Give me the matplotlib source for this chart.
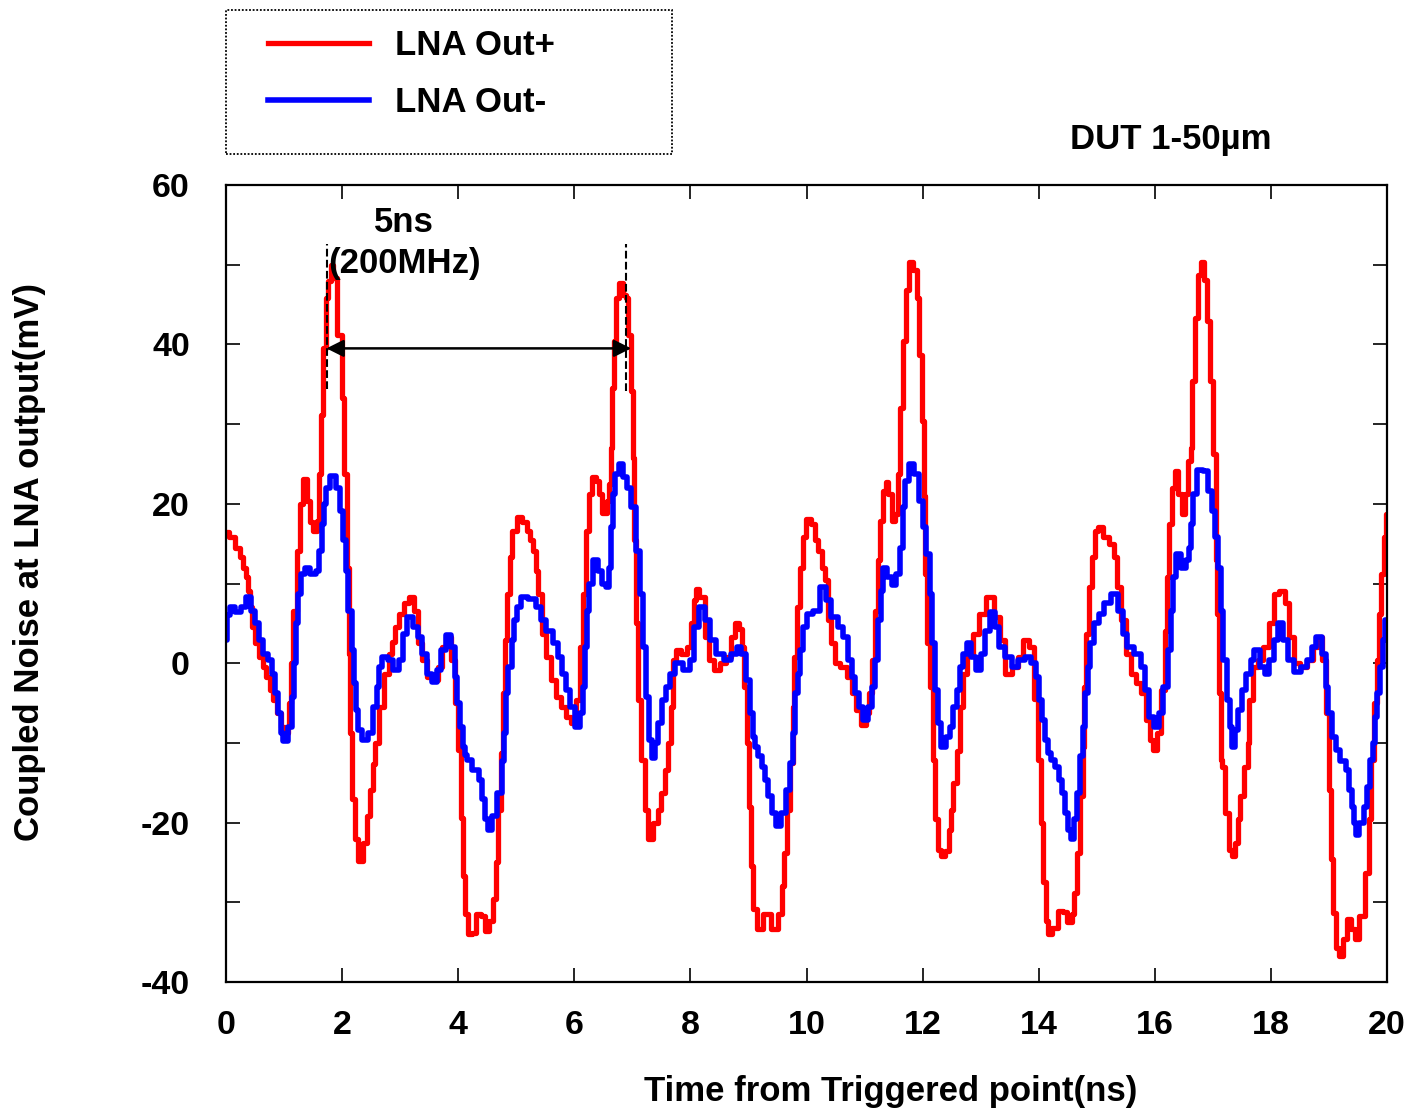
import matplotlib
matplotlib.use("Agg")
import matplotlib.pyplot as plt
from matplotlib.patches import Rectangle
from matplotlib.ticker import MultipleLocator

plt.rcParams['font.family'] = ['Liberation Sans', 'DejaVu Sans']
plt.rcParams['font.weight'] = 'bold'
plt.rcParams['axes.unicode_minus'] = False

# LNA Out+ (red)
red_t = [0.0, 0.1, 0.2, 0.27, 0.32, 0.36, 0.4, 0.44, 0.47, 0.53, 0.61, 0.66, 0.73, 0.79, 0.84, 0.9, 0.99, 1.05, 1.08,
         1.1, 1.13, 1.19, 1.25, 1.3, 1.36, 1.42, 1.48, 1.53, 1.59, 1.62, 1.65, 1.7, 1.73, 1.79, 1.82, 1.88, 1.96, 2.02,
         2.05, 2.11, 2.12, 2.16, 2.19, 2.25, 2.31, 2.42, 2.45, 2.51, 2.54, 2.6, 2.68, 2.77, 2.83, 2.88, 2.94, 3.03, 3.11,
         3.2, 3.28, 3.34, 3.4, 3.51, 3.6, 3.69, 3.74, 3.83, 3.92, 3.97, 4.02, 4.06, 4.09, 4.15, 4.2, 4.26, 4.35, 4.43,
         4.49, 4.58, 4.63, 4.66, 4.72, 4.75, 4.78, 4.82, 4.85, 4.92, 4.95, 5.06, 5.15, 5.21, 5.27, 5.32, 5.35, 5.41,
         5.47, 5.55, 5.64, 5.73, 5.81, 5.9, 5.98, 6.07, 6.13, 6.18, 6.24, 6.27, 6.33, 6.41, 6.43, 6.53, 6.59, 6.62,
         6.64, 6.67, 6.7, 6.73, 6.82, 6.87, 6.9, 6.96, 6.99, 7.02, 7.05, 7.07, 7.13, 7.18, 7.24, 7.29, 7.42, 7.47, 7.52,
         7.59, 7.65, 7.68, 7.72, 7.8, 7.89, 7.98, 8.03, 8.09, 8.11, 8.2, 8.29, 8.35, 8.45, 8.57, 8.65, 8.74, 8.8, 8.88,
         8.9, 8.96, 9.0, 9.03, 9.05, 9.11, 9.2, 9.31, 9.46, 9.57, 9.6, 9.63, 9.69, 9.75, 9.77, 9.81, 9.85, 9.92, 9.95,
         10.03, 10.12, 10.18, 10.23, 10.29, 10.35, 10.4, 10.46, 10.52, 10.63, 10.75, 10.81, 10.89, 11.0, 11.06, 11.09,
         11.15, 11.21, 11.24, 11.3, 11.35, 11.38, 11.44, 11.49, 11.56, 11.58, 11.64, 11.7, 11.74, 11.79, 11.87, 11.92,
         11.96, 12.01, 12.04, 12.05, 12.09, 12.15, 12.2, 12.24, 12.3, 12.33, 12.44, 12.47, 12.5, 12.56, 12.62, 12.67,
         12.73, 12.79, 12.93, 13.02, 13.16, 13.3, 13.36, 13.48, 13.59, 13.68, 13.79, 13.88, 13.97, 14.02, 14.05, 14.11,
         14.14, 14.19, 14.28, 14.37, 14.45, 14.54, 14.6, 14.63, 14.68, 14.74, 14.77, 14.79, 14.83, 14.89, 14.94, 15.0,
         15.06, 15.17, 15.26, 15.32, 15.37, 15.46, 15.54, 15.63, 15.72, 15.8, 15.89, 15.95, 16.0, 16.06, 16.15, 16.2,
         16.23, 16.26, 16.32, 16.38, 16.43, 16.49, 16.55, 16.61, 16.63, 16.66, 16.72, 16.77, 16.81, 16.87, 16.92,
         16.98, 17.04, 17.07, 17.09, 17.12, 17.15, 17.18, 17.24, 17.3, 17.35, 17.41, 17.44, 17.5, 17.59, 17.62, 17.64,
         17.73, 17.81, 17.93, 18.02, 18.1, 18.19, 18.28, 18.36, 18.45, 18.56, 18.68, 18.76, 18.85, 18.9, 18.99, 19.02,
         19.05, 19.1, 19.16, 19.19, 19.28, 19.34, 19.42, 19.48, 19.57, 19.66, 19.71, 19.74, 19.8, 19.85, 19.88, 19.93,
         19.97, 20.0]
red_v = [16.4, 15.8, 14.5, 13.3, 12.0, 10.8, 9.1, 7.0, 4.5, 2.5, 0.8, -0.5, -1.7, -3.4, -4.6, -6.3, -8.0, -8.8, -8.0,
         -5.0, 0.0, 6.6, 14.1, 20.0, 23.1, 20.3, 17.7, 16.6, 17.9, 23.7, 31.2, 39.5, 45.8, 47.9, 50.0, 48.3, 41.2, 33.3,
         23.7, 12.0, 1.2, -8.8, -17.1, -22.1, -24.8, -22.5, -19.2, -15.9, -12.7, -10.0, -5.5, -1.3, 1.2, 2.7, 4.5, 6.2,
         7.5, 8.3, 6.6, 2.5, 0.4, -1.7, -2.1, -0.5, 2.0, 3.3, 0.4, -5.0, -10.9, -19.4, -26.7, -31.5, -34.0, -33.8, -31.5,
         -31.7, -33.6, -32.3, -29.6, -25.0, -18.4, -11.3, -3.8, 2.9, 8.7, 13.3, 16.6, 18.3, 17.7, 16.6, 15.4, 14.1, 11.6,
         8.7, 3.7, 0.8, -2.1, -4.2, -5.5, -6.7, -7.5, -4.6, 2.0, 8.7, 16.6, 21.2, 23.3, 22.9, 21.2, 18.9, 20.3, 22.5,
         27.0, 34.5, 40.4, 45.8, 47.7, 46.2, 45.8, 41.2, 34.1, 25.8, 15.4, 5.0, -4.6, -12.1, -18.4, -22.1, -20.0, -18.4,
         -16.3, -13.4, -10.0, -5.5, 0.4, 1.6, 1.2, 2.0, 5.0, 7.9, 9.3, 8.3, 3.3, 0.4, -0.9, 0.0, 0.8, 3.3, 5.0, 4.3, 2.0,
         -3.0, -10.0, -18.0, -25.5, -30.9, -33.4, -31.5, -33.4, -31.5, -28.0, -23.8, -18.4, -12.5, -5.5, 0.8, 7.0, 12.0,
         15.8, 18.1, 17.5, 15.4, 14.1, 12.0, 10.4, 5.4, 2.5, 0.0, -0.5, -1.7, -3.8, -5.9, -7.8, -6.3, -3.8, 0.4, 6.6,
         12.9, 17.9, 21.6, 22.7, 21.2, 17.9, 18.7, 23.7, 32.0, 40.4, 46.8, 50.4, 49.3, 45.8, 38.7, 30.4, 21.0, 11.2, 2.5,
         -3.0, -12.1, -19.6, -23.4, -24.2, -23.6, -20.9, -18.4, -15.0, -11.0, -5.5, -1.3, 1.2, 3.7, 6.2, 8.3, 5.8, 2.9,
         -1.3, -0.5, 0.8, 2.9, 2.0, -4.5, -12.1, -20.0, -27.5, -32.3, -34.0, -33.2, -31.1, -31.2, -32.5, -31.5, -28.8,
         -23.8, -16.7, -10.5, -3.0, 3.7, 9.5, 13.3, 16.6, 17.1, 15.8, 15.0, 13.3, 9.5, 5.4, 1.2, -1.3, -2.5, -3.8, -7.1,
         -9.6, -10.9, -8.8, -3.4, 4.1, 10.8, 17.5, 22.0, 24.1, 21.2, 18.7, 21.2, 25.4, 27.0, 35.4, 43.3, 48.7, 50.4,
         48.1, 42.9, 35.4, 26.2, 12.9, 6.2, -3.8, -12.1, -13.0, -18.8, -23.4, -24.2, -22.5, -19.6, -16.7, -13.0, -10.0,
         -4.6, -0.5, 0.4, 2.0, 5.0, 8.7, 9.1, 7.5, 3.3, 0.0, -0.5, 0.4, 2.0, 3.3, 0.4, -6.3, -15.9, -24.6, -31.3, -35.7,
         -36.7, -34.6, -32.1, -33.4, -34.6, -31.7, -26.3, -19.6, -12.1, -5.0, 0.4, 6.2, 11.2, 15.8, 18.7]

# LNA Out- (blue)
blue_t = [0.0, 0.05, 0.1, 0.21, 0.3, 0.38, 0.47, 0.53, 0.59, 0.67, 0.76, 0.81, 0.87, 0.93, 0.96, 1.02, 1.1, 1.16, 1.19,
          1.22, 1.27, 1.33, 1.39, 1.5, 1.59, 1.62, 1.68, 1.7, 1.73, 1.85, 1.93, 1.99, 2.05, 2.08, 2.14, 2.19, 2.22, 2.25,
          2.31, 2.39, 2.51, 2.57, 2.62, 2.65, 2.74, 2.83, 2.94, 3.03, 3.08, 3.17, 3.28, 3.34, 3.43, 3.51, 3.6, 3.66,
          3.74, 3.83, 3.92, 3.97, 4.0, 4.06, 4.09, 4.13, 4.17, 4.32, 4.38, 4.43, 4.49, 4.55, 4.63, 4.72, 4.78, 4.81,
          4.84, 4.89, 4.95, 4.98, 5.03, 5.12, 5.29, 5.38, 5.47, 5.55, 5.7, 5.75, 5.81, 5.9, 5.95, 6.07, 6.13, 6.16,
          6.21, 6.24, 6.27, 6.36, 6.44, 6.5, 6.59, 6.62, 6.65, 6.68, 6.73, 6.82, 6.87, 6.93, 7.02, 7.1, 7.16, 7.19,
          7.28, 7.31, 7.36, 7.42, 7.48, 7.54, 7.62, 7.68, 7.8, 7.94, 8.03, 8.11, 8.2, 8.29, 8.37, 8.51, 8.65, 8.76,
          8.84, 8.92, 9.0, 9.05, 9.11, 9.13, 9.2, 9.25, 9.31, 9.37, 9.43, 9.52, 9.6, 9.69, 9.75, 9.77, 9.83, 9.88, 9.91,
          9.97, 10.06, 10.18, 10.29, 10.37, 10.49, 10.58, 10.67, 10.75, 10.81, 10.87, 10.95, 11.0, 11.12, 11.15, 11.21,
          11.27, 11.3, 11.35, 11.44, 11.49, 11.58, 11.64, 11.67, 11.72, 11.8, 11.89, 11.97, 12.04, 12.09, 12.15, 12.18,
          12.24, 12.3, 12.35, 12.44, 12.5, 12.56, 12.62, 12.67, 12.73, 12.79, 12.88, 12.97, 13.05, 13.11, 13.2, 13.28,
          13.36, 13.48, 13.59, 13.71, 13.82, 13.91, 13.99, 14.02, 14.08, 14.14, 14.19, 14.23, 14.32, 14.37, 14.42,
          14.48, 14.54, 14.59, 14.63, 14.68, 14.74, 14.77, 14.83, 14.86, 14.92, 15.0, 15.09, 15.17, 15.32, 15.41, 15.5,
          15.55, 15.72, 15.8, 15.86, 15.95, 16.03, 16.11, 16.18, 16.26, 16.29, 16.32, 16.4, 16.49, 16.58, 16.61, 16.64,
          16.69, 16.78, 16.87, 16.95, 17.01, 17.07, 17.12, 17.15, 17.21, 17.27, 17.32, 17.35, 17.41, 17.47, 17.53,
          17.62, 17.68, 17.73, 17.79, 17.85, 17.93, 18.02, 18.08, 18.17, 18.26, 18.34, 18.46, 18.57, 18.68, 18.74,
          18.83, 18.92, 18.97, 19.0, 19.09, 19.15, 19.24, 19.34, 19.36, 19.42, 19.45, 19.48, 19.57, 19.63, 19.69,
          19.74, 19.77, 19.8, 19.85, 19.91, 19.94, 20.0]
blue_v = [2.9, 6.0, 7.0, 6.4, 7.0, 8.3, 6.6, 5.0, 2.9, 1.2, 0.4, -1.3, -3.8, -6.3, -8.8, -9.8, -8.0, -4.2, 0.0, 5.0,
          8.7, 11.2, 12.0, 11.2, 11.6, 14.1, 17.5, 20.0, 22.0, 23.5, 22.0, 19.1, 15.4, 11.6, 6.6, 1.6, -2.5, -5.9, -8.4,
          -9.6, -8.8, -5.5, -3.0, -0.5, 0.8, 0.4, -0.9, 0.4, 3.7, 5.8, 4.5, 3.3, 1.2, -1.3, -2.3, -0.9, 1.6, 3.5, 2.0,
          -1.7, -5.0, -8.0, -10.5, -11.5, -12.1, -13.4, -14.6, -17.1, -19.6, -20.9, -19.2, -16.3, -12.3, -8.8, -3.8,
          -0.5, 2.9, 5.4, 7.0, 8.3, 8.1, 7.0, 5.4, 4.1, 2.5, 0.8, -1.3, -3.4, -5.5, -8.0, -6.3, -3.0, 2.0, 6.6, 10.0,
          12.9, 11.6, 10.0, 9.5, 12.0, 17.1, 21.2, 23.7, 25.0, 23.3, 22.0, 19.6, 14.1, 8.7, 2.0, -4.2, -9.6, -11.9,
          -10.0, -7.5, -4.6, -3.0, -1.3, 0.0, -0.9, 0.4, 4.5, 7.0, 5.4, 2.9, 1.2, 0.4, 1.2, 2.0, 1.2, -2.1, -6.3, -9.2,
          -10.5, -11.7, -13.0, -14.6, -16.7, -18.8, -20.4, -18.8, -15.9, -12.5, -8.8, -3.8, -1.3, 1.6, 4.5, 6.2, 6.6,
          9.5, 7.9, 5.8, 4.5, 3.3, 0.4, -1.7, -3.8, -5.5, -7.1, -5.5, -3.0, 0.4, 5.4, 9.1, 12.0, 10.8, 9.8, 11.2, 14.5,
          19.6, 22.9, 25.0, 23.7, 20.4, 17.1, 13.7, 8.7, 2.5, -3.4, -7.5, -10.5, -9.2, -8.0, -5.5, -3.4, -0.5, 1.2, 2.5,
          0.8, -0.9, 1.2, 4.1, 6.4, 4.5, 2.0, 0.8, -0.5, 0.4, 0.8, 0.0, -1.7, -4.6, -7.1, -9.6, -11.3, -12.1, -13.0,
          -14.6, -16.3, -18.8, -20.9, -22.1, -19.6, -16.3, -11.7, -8.0, -3.8, -0.5, 2.5, 5.0, 6.2, 7.5, 8.7, 6.6, 3.7,
          2.0, 1.2, -0.5, -3.4, -6.7, -8.0, -6.3, -3.0, 1.6, 6.6, 10.8, 13.7, 12.0, 12.9, 14.5, 17.5, 21.2, 24.3, 24.1,
          21.6, 19.1, 15.8, 12.0, 6.6, 0.4, -4.6, -8.0, -10.5, -8.4, -5.9, -3.4, -1.3, 0.4, 1.6, 1.6, -0.5, -1.3, 0.4,
          2.9, 5.0, 2.9, 0.4, -1.1, -0.5, 0.4, 2.0, 3.3, 1.2, -3.0, -6.3, -9.2, -10.9, -12.3, -13.4, -15.9, -18.0,
          -20.0, -21.5, -20.0, -18.0, -15.5, -12.1, -10.0, -6.7, -3.8, -0.5, 2.9, 5.4]

x_ticks = [0, 2, 4, 6, 8, 10, 12, 14, 16, 18, 20]
y_ticks = [-40, -20, 0, 20, 40, 60]

fig = plt.figure(figsize=(14.08, 11.14), dpi=100)
ax = fig.add_axes([226 / 1408, 1 - 982 / 1114, 1161 / 1408, 797 / 1114])

# scope samples are held, so draw them as small steps
ax.plot(red_t, red_v, color='#ff0000', lw=3.8, label='LNA Out+', drawstyle='steps-mid')
ax.plot(blue_t, blue_v, color='#0000ff', lw=4.0, label='LNA Out-', drawstyle='steps-mid')

ax.set_xlim(0, 20)
ax.set_ylim(-40, 60)
ax.set_xticks(x_ticks)
ax.set_yticks(y_ticks)
ax.yaxis.set_minor_locator(MultipleLocator(10))
ax.tick_params(axis='both', which='both', direction='in', length=10, width=1.2,
               top=True, right=True, labelsize=24.5)
ax.tick_params(axis='x', pad=20)
ax.tick_params(axis='y', pad=26)
for s in ax.spines.values():
    s.set_linewidth(1.6)

# period annotation
ax.plot([1.74, 1.74], [34.4, 52.6], color='k', ls='--', lw=1.5)
ax.plot([6.89, 6.89], [34.2, 52.6], color='k', ls='--', lw=1.5)
ax.annotate('', xy=(1.73, 39.5), xytext=(6.98, 39.5),
            arrowprops=dict(arrowstyle='<|-|>', color='k', lw=1.8, mutation_scale=26,
                            shrinkA=0, shrinkB=0))
ax.text(3.07, 52.7, '5ns\n(200MHz)', ha='center', va='center', fontsize=25,
        fontweight='bold', linespacing=1.32)

fig.text(1171 / 1408, 1 - 139 / 1114, 'DUT 1-50µm', ha='center', va='center',
         fontsize=25, fontweight='bold')
fig.text(891 / 1408, 1 - 1092 / 1114, 'Time from Triggered point(ns)', ha='center', va='center',
         fontsize=25, fontweight='bold')
fig.text(30 / 1408, 1 - 562 / 1114, 'Coupled Noise at LNA output(mV)', ha='center', va='center',
         rotation=90, fontsize=25, fontweight='bold')

# legend box drawn separately with dotted border
fig.patches.append(Rectangle((226 / 1408, 1 - 154 / 1114), 446 / 1408, 144 / 1114, fill=False,
                             ls=(0, (1, 1)), lw=1.3, ec='k', transform=fig.transFigure))
ax.legend(loc='upper left', bbox_to_anchor=(268 / 1408, 1 - 29 / 1114), bbox_transform=fig.transFigure,
          frameon=False, fontsize=25, handlelength=2.9, handletextpad=0.75, labelspacing=0.7,
          borderpad=0, borderaxespad=0)

fig.savefig('out.png', dpi=100)
